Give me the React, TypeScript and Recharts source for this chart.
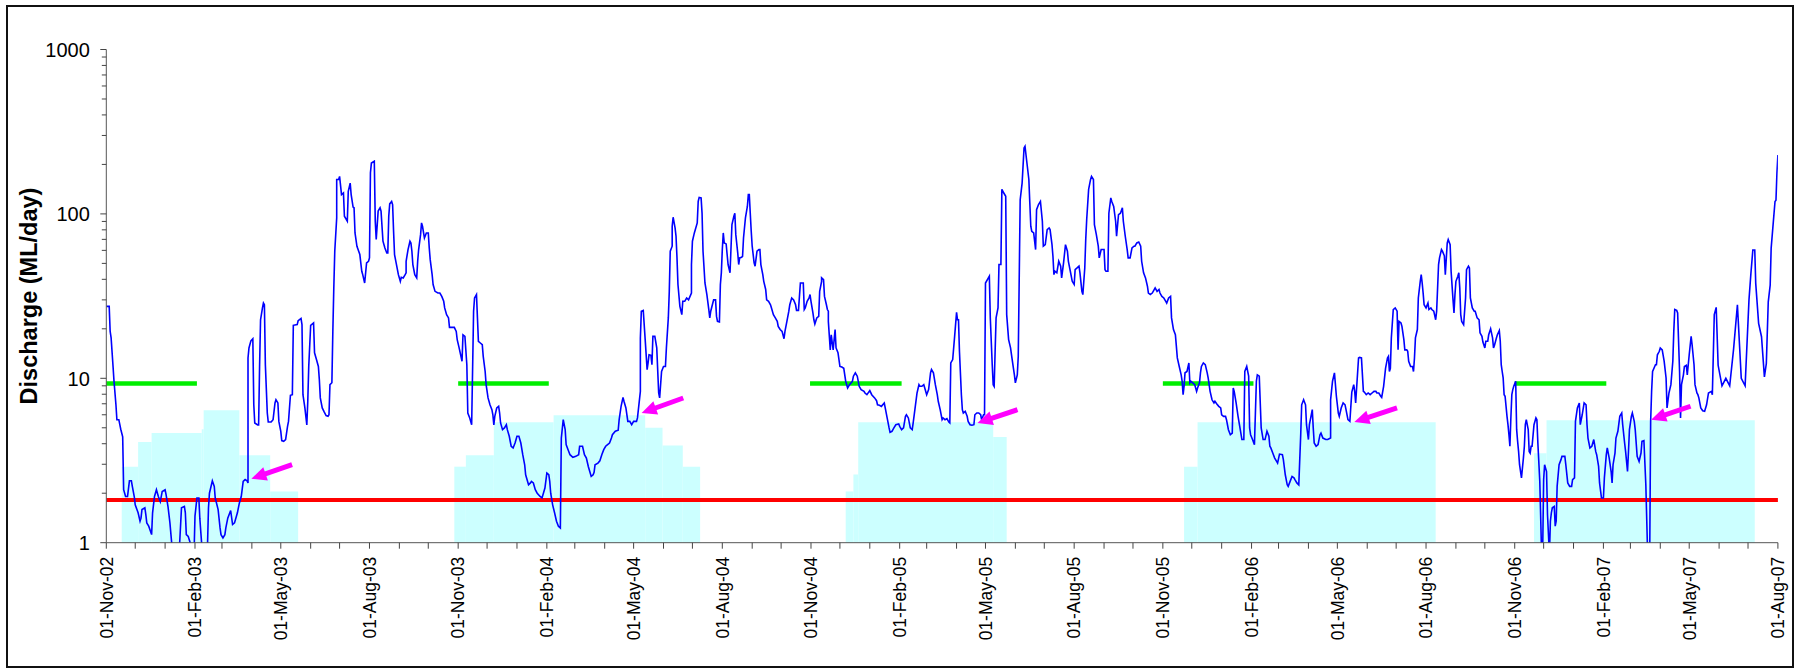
import React from 'react'
import {
  ComposedChart,
  Line,
  XAxis,
  YAxis,
  ReferenceArea,
  ReferenceLine,
  Label,
} from 'recharts'

// x values are days after 01-Nov-02, y values are ML/day
const START = Date.UTC(2002, 10, 1)
const END_DAY = 1734 // 01-Aug-07

const flow2003 = [
  [0, 27.4], [3, 27.4], [4, 19.3], [5, 17.6], [7, 11.8], [8, 9.6], [10, 6.9], [11, 5.6], [13, 5.6], [15, 4.9],
  [17, 4.4], [18, 2.1], [20, 1.91], [22, 1.91], [24, 2.38], [26, 2.38], [27, 2.2], [29, 1.91], [30, 1.7], [33, 1.52],
  [35, 1.35], [36, 1.41], [37, 1.59], [40, 1.63], [41, 1.48], [42, 1.32], [44, 1.26], [47, 1.12], [48, 1.52], [50, 1.91],
  [52, 2.1], [54, 1.91], [56, 1.78], [58, 2.05], [61, 2.1], [62, 1.96], [64, 1.66], [66, 1.32], [68, 0.97], [70, 0.8],
  [75, 0.8], [76, 0.97], [78, 1.63], [81, 1.66], [82, 1.52], [83, 1.12], [85, 1.09], [87, 1.0], [89, 0.8], [91, 0.85],
  [92, 1.45], [94, 1.87], [96, 1.87], [97, 1.41], [99, 0.97], [100, 0.8], [103, 0.8], [105, 0.97], [106, 1.63], [107, 2.0],
  [110, 2.38], [112, 2.2], [113, 1.87], [116, 1.59], [118, 1.23], [119, 1.12], [121, 1.07], [123, 1.12], [124, 1.23], [126, 1.41],
  [129, 1.57], [131, 1.29], [133, 1.32], [136, 1.52], [138, 1.74], [140, 1.91], [142, 2.36], [144, 2.42], [146, 2.38], [147, 2.31],
  [147, 13.3], [148, 15.3], [150, 16.9], [152, 17.4], [153, 6.9], [154, 5.35], [157, 5.2], [158, 5.2], [159, 11.8], [160, 22.7],
  [162, 26.8], [163, 28.7], [164, 28], [165, 12.1], [167, 6.15], [168, 5.42], [171, 5.42], [173, 5.6], [175, 7.08], [176, 7.4],
  [178, 7.08], [179, 5.47], [181, 4.76], [182, 4.18], [184, 4.14], [186, 4.24], [188, 5.1], [189, 5.47], [191, 7.88], [193, 7.95],
  [194, 21], [198, 21.2], [199, 22.4], [202, 23.1], [203, 21.2], [204, 7.95], [206, 6.6], [208, 5.2], [209, 7.25], [210, 11.8],
  [212, 21], [215, 21.7], [216, 14.3], [218, 13], [220, 11.8], [221, 9.8], [222, 7.6], [224, 6.6], [226, 6.24], [228, 5.93],
  [230, 5.88], [231, 6.0], [232, 9.15], [234, 9.4], [235, 19.3], [236, 35.5], [237, 59.3], [239, 94.6], [239, 162], [241, 162],
  [242, 169], [244, 131], [246, 134], [247, 96.8], [250, 90.2], [251, 137], [253, 154], [254, 131], [256, 110], [257, 109],
  [258, 76.6], [260, 63.5], [263, 56.6], [265, 44.8], [266, 42.7], [268, 38.0], [270, 50.3], [272, 51.5], [273, 54], [274, 178],
  [275, 204], [278, 209], [279, 90.2], [280, 69.8], [282, 104], [284, 109], [285, 104], [287, 68.2], [289, 62.1], [291, 57.9],
  [292, 57.9], [293, 96.8], [294, 115], [296, 119], [297, 114], [298, 78.4], [299, 56.6], [301, 49.2], [303, 42.7], [305, 38.9],
  [306, 41.2], [308, 40.8], [310, 42.7], [311, 43.8], [311, 51.5], [313, 60.7], [315, 68.2], [316, 66.6], [317, 59.3], [318, 49.2],
  [320, 42.7], [322, 40.8], [323, 51.5], [324, 60.7], [326, 74.8], [327, 88.2], [328, 84.1], [330, 71.4], [332, 76.6], [334, 76.6],
  [335, 62.1], [336, 52.7], [338, 42.7], [339, 37.2], [341, 33.8], [344, 33], [346, 33], [348, 31.5], [350, 29.4], [351, 26.8],
  [353, 24.4], [355, 23.3], [356, 20.4], [361, 20.4], [363, 19.3], [364, 17.2],
]

const flow2004 = [
  [366, 15.3], [369, 12.7], [370, 18.4], [372, 18], [374, 12.1], [375, 6.15], [377, 5.74], [379, 5.22], [381, 25.6], [382, 30.8],
  [384, 32.3], [385, 23.3], [386, 16.8], [388, 16.4], [390, 16], [391, 13.6], [393, 11], [394, 9.15], [396, 7.6], [398, 6.9],
  [400, 6.45], [401, 6.0], [402, 5.2], [403, 5.87], [405, 6.6], [407, 6.75], [408, 6.15], [409, 5.35], [411, 4.87], [413, 4.99],
  [415, 5.22], [416, 4.87], [418, 4.44], [420, 3.86], [422, 3.77], [424, 4.04], [426, 4.44], [428, 4.44], [430, 4.04], [432, 3.43],
  [434, 2.98], [435, 2.59], [438, 2.25], [440, 2.31], [441, 2.36], [443, 2.31], [445, 2.1], [447, 2.0], [450, 1.91], [452, 1.87],
  [455, 2.15], [457, 2.65], [459, 2.59], [460, 2.36], [461, 2.0], [463, 1.7], [465, 1.52], [467, 1.35], [469, 1.26], [471, 1.23],
  [472, 4.33], [474, 5.6], [476, 4.87], [477, 3.95], [479, 3.68], [481, 3.43], [484, 3.31], [487, 3.35], [490, 3.43], [491, 3.86],
  [494, 3.86], [496, 3.43], [498, 3.27], [500, 2.91], [503, 2.53], [505, 2.59], [506, 2.68], [507, 2.98], [510, 3.05], [512, 3.15],
  [514, 3.43], [516, 3.68], [518, 3.86], [520, 3.95], [522, 4.04], [524, 4.33], [525, 4.54], [528, 4.76], [531, 4.83], [532, 5.6],
  [534, 6.75], [536, 7.66], [537, 7.25], [539, 6.6], [541, 5.47], [543, 5.47], [545, 5.22], [547, 5.47], [550, 5.47], [551, 5.74],
  [554, 8.33], [554, 17.6], [555, 25.6], [557, 25.9], [559, 17.2], [561, 11.3], [562, 12.4], [563, 13.9], [565, 13.8], [566, 12.1],
  [567, 18], [569, 18], [571, 15.3], [573, 8.14], [574, 7.6], [576, 11], [578, 11.8], [580, 11.8], [581, 15.3], [583, 23.3],
  [584, 33.8], [585, 59.3], [587, 63.6], [587, 84.1], [588, 95.4], [590, 82.2], [591, 73.1], [592, 54], [593, 37.2], [595, 27.4],
  [597, 24.4], [598, 29.4], [600, 29.4], [602, 30.8], [604, 30], [607, 33], [607, 49.2], [608, 68.2], [610, 76.6], [613, 88.2],
  [614, 119], [615, 126], [617, 125], [618, 101], [619, 59.3], [621, 38], [623, 32.3], [625, 26.2], [626, 23.3], [627, 25.6],
  [630, 30], [632, 30], [633, 23.8], [634, 22.2], [636, 22], [637, 37.2], [638, 43.8], [639, 60.7], [640, 76.6], [641, 66.6],
  [643, 65.7], [644, 56.6], [645, 49.2], [647, 43.8], [649, 86.1], [651, 96.8], [652, 101], [653, 74.8], [655, 57.9], [656, 49.2],
  [657, 54], [659, 54.5], [660, 55.1], [661, 71.4], [663, 94.6], [665, 111], [666, 131], [667, 131], [668, 101], [669, 78.4],
  [670, 63.6], [672, 50.4], [673, 48.1], [675, 59.3], [677, 60.7], [678, 60.7], [679, 49.2], [681, 42.7], [682, 38.9], [684, 34.7],
  [685, 30], [687, 29.4], [689, 28], [690, 26.8], [692, 24.4], [694, 23.3], [696, 22.2], [697, 20.7], [699, 19.8], [701, 19.3],
  [703, 17.4], [704, 19.3], [706, 22.2], [708, 25.6], [709, 28], [711, 30.8], [713, 30], [715, 28], [716, 25.9], [718, 25.9],
  [720, 38], [723, 38], [724, 26.2], [725, 26.8], [727, 29.4], [729, 30.8], [730, 32.3],
]

const flow2005 = [
  [731, 29.4], [733, 25], [734, 22.7], [735, 21.4], [737, 23.3], [739, 23.8], [740, 33.8], [742, 38.9], [742, 40.8], [744, 39.8],
  [745, 31.5], [747, 28], [748, 26.2], [749, 25.6], [749, 22.2], [751, 14.9], [752, 18.4], [754, 14.9], [756, 19.8], [757, 15.3],
  [759, 14.3], [761, 11.8], [763, 11.7], [765, 11.5], [767, 9.6], [769, 8.73], [771, 9.15], [774, 9.6], [775, 10.3], [777, 10.8],
  [779, 10.3], [781, 8.94], [783, 8.53], [786, 8.33], [787, 8.14], [789, 7.95], [792, 8.42], [794, 7.95], [797, 7.6], [799, 7.31],
  [800, 6.9], [802, 6.85], [804, 6.75], [807, 7.08], [808, 6.6], [810, 5.74], [812, 4.99], [813, 4.69], [815, 4.76], [817, 4.99],
  [819, 5.22], [822, 5.27], [823, 5.1], [825, 4.87], [827, 4.99], [829, 5.87], [830, 6.0], [832, 5.74], [834, 4.99], [836, 4.87],
  [837, 5.35], [839, 6.6], [841, 8.14], [843, 9.15], [844, 8.94], [846, 8.94], [848, 9.15], [849, 8.73], [851, 7.95], [853, 8.53],
  [855, 10.8], [856, 11.3], [858, 10.8], [860, 9.15], [862, 7.95], [863, 7.25], [865, 6.45], [867, 5.6], [868, 5.74], [870, 5.6],
  [872, 5.68], [874, 5.42], [875, 5.35], [876, 12.4], [878, 13], [880, 18], [882, 25.2], [883, 22.7], [884, 22.7], [885, 14.6],
  [887, 7.95], [888, 6.45], [889, 6.15], [891, 6.3], [893, 5.87], [894, 5.47], [896, 5.22], [898, 5.18], [900, 5.22], [901, 6.0],
  [903, 6.15], [905, 6.15], [907, 6.0], [908, 5.6], [910, 6.0], [911, 6.0], [912, 38], [915, 40.8], [916, 41.8], [917, 23.3],
  [919, 12.1], [920, 9.15], [921, 8.94], [922, 14.6], [923, 23.3], [925, 26.8], [926, 49.2], [928, 49.2], [929, 141], [931, 134],
  [933, 128], [934, 24.4], [936, 17.2], [938, 15.3], [939, 13.9], [941, 11.5], [942, 10.5], [943, 9.38], [945, 10.5], [946, 13.6],
  [948, 122], [950, 154], [952, 252], [953, 258], [955, 204], [957, 162], [958, 116], [959, 84.1], [960, 78.4], [962, 76.6],
  [964, 60.7], [965, 106], [967, 114], [969, 119], [971, 90.2], [972, 63.6], [974, 65], [976, 80.3], [978, 82.2], [979, 80.3],
  [981, 65], [982, 55.1], [983, 42.7], [984, 44.8], [986, 43.8], [988, 51.5], [990, 48.1], [991, 40.8], [993, 50.4], [995, 65],
  [997, 59.3], [998, 51.5], [1000, 44.8], [1002, 38.9], [1004, 37.2], [1005, 45.8], [1007, 46.9], [1009, 48.1], [1010, 43.8], [1012, 33.8],
  [1013, 32.3], [1015, 46.9], [1016, 70], [1017, 92.4], [1019, 141], [1021, 162], [1022, 169], [1024, 162], [1025, 86.1], [1027, 74.8],
  [1029, 63.6], [1030, 54], [1032, 60.7], [1035, 60.7], [1036, 45.8], [1037, 44.8], [1039, 44.8], [1040, 101], [1042, 125], [1043, 119],
  [1045, 111], [1047, 90.2], [1048, 73.1], [1050, 99], [1052, 101], [1054, 109], [1055, 90.2], [1057, 73.1], [1059, 60.7], [1060, 54],
  [1062, 54], [1064, 62.1], [1066, 63.6], [1067, 63.6], [1069, 66.6], [1071, 67.5], [1073, 63.6], [1074, 51.5], [1076, 43.8], [1078, 40.8],
  [1080, 36.3], [1081, 33], [1083, 32.3], [1085, 33], [1086, 33.8], [1088, 35.5], [1090, 33.8], [1092, 34.7], [1093, 33], [1095, 31.5],
]

const flow2006 = [
  [1097, 30.8], [1099, 29.4], [1100, 28.7], [1102, 30.8], [1104, 31.5], [1105, 23.3], [1107, 19.8], [1109, 18.4], [1110, 15.7], [1111, 13.3],
  [1113, 11.8], [1115, 10.5], [1116, 9.6], [1117, 7.95], [1118, 8.94], [1119, 10.8], [1121, 11], [1123, 12.4], [1124, 9.38], [1125, 9.6],
  [1127, 9.38], [1129, 9.15], [1131, 8.33], [1132, 8.73], [1134, 9.38], [1135, 10.8], [1136, 11.8], [1138, 12.4], [1140, 12.1], [1142, 10.8],
  [1143, 10.05], [1145, 8.33], [1147, 7.4], [1149, 7.08], [1150, 7.25], [1152, 6.98], [1154, 6.75], [1156, 6.6], [1157, 6.0], [1159, 5.87],
  [1161, 5.87], [1162, 5.6], [1164, 4.87], [1166, 4.54], [1168, 4.64], [1169, 8.73], [1170, 8.33], [1172, 7.08], [1174, 5.87], [1176, 4.99],
  [1178, 4.24], [1180, 4.24], [1181, 11], [1183, 11.8], [1185, 10.3], [1186, 4.99], [1187, 4.54], [1189, 4.24], [1191, 3.95], [1193, 9.6],
  [1194, 10.5], [1196, 10.3], [1198, 4.99], [1200, 4.24], [1202, 4.24], [1204, 4.76], [1206, 4.44], [1207, 3.86], [1208, 3.77], [1210, 3.51],
  [1212, 3.27], [1214, 3.12], [1215, 3.05], [1217, 3.46], [1220, 3.43], [1221, 3.2], [1223, 2.59], [1225, 2.25], [1226, 2.2], [1228, 2.36],
  [1230, 2.53], [1232, 2.48], [1233, 2.42], [1235, 2.31], [1237, 2.25], [1239, 4.54], [1240, 6.9], [1242, 7.4], [1244, 6.9], [1245, 5.22],
  [1247, 4.24], [1248, 5.22], [1250, 6.0], [1251, 6.45], [1252, 4.99], [1253, 4.04], [1255, 3.86], [1257, 3.95], [1259, 4.54], [1260, 4.64],
  [1262, 4.33], [1265, 4.24], [1267, 4.24], [1270, 4.33], [1270, 7.4], [1272, 9.6], [1274, 10.8], [1276, 7.78], [1278, 6.15], [1279, 5.87],
  [1281, 6.6], [1283, 7.08], [1285, 6.9], [1286, 6.45], [1288, 5.6], [1290, 5.47], [1291, 6.75], [1292, 8.24], [1294, 9.15], [1295, 8.33],
  [1296, 7.08], [1299, 13.3], [1300, 13.4], [1302, 13.3], [1304, 8.33], [1305, 8.24], [1307, 7.95], [1309, 8.14], [1311, 7.95], [1313, 8.14],
  [1315, 8.33], [1317, 8.33], [1318, 8.14], [1320, 8.14], [1322, 7.78], [1323, 7.66], [1325, 8.94], [1327, 11.5], [1329, 13.3], [1330, 13.6],
  [1331, 11], [1332, 11.5], [1333, 17.6], [1335, 26.2], [1337, 26.8], [1339, 25.6], [1340, 14.9], [1341, 22.2], [1343, 21.7], [1344, 20.7],
  [1346, 17.2], [1347, 14.9], [1349, 14.9], [1350, 14.6], [1351, 12.7], [1353, 11.8], [1355, 11.8], [1356, 11], [1357, 13.3], [1358, 17.6],
  [1360, 19.8], [1361, 30.8], [1363, 38.9], [1364, 42.7], [1365, 38], [1366, 33], [1367, 28], [1369, 26.8], [1371, 28.7], [1372, 26.2],
  [1374, 26.8], [1375, 26.2], [1377, 25.6], [1379, 22.7], [1380, 25.6], [1382, 49.2], [1383, 54], [1385, 60.7], [1386, 59.3], [1388, 55.6],
  [1389, 42.7], [1391, 66.6], [1392, 69.8], [1394, 65], [1395, 44.8], [1397, 30], [1398, 25], [1399, 32.3], [1400, 38.9], [1402, 41.8],
  [1403, 43.8], [1404, 35.5], [1405, 24.4], [1406, 22.2], [1408, 21.2], [1410, 30.8], [1411, 45.8], [1413, 48.1], [1414, 46.9], [1415, 30.8],
  [1417, 26.8], [1419, 25.6], [1420, 25.6], [1422, 23.3], [1424, 22.7], [1425, 18.9], [1427, 18], [1428, 16.6], [1430, 15.3], [1431, 16.8],
  [1433, 16.8], [1434, 18.4], [1436, 20], [1438, 17.6], [1439, 15.3], [1440, 15.9], [1442, 17.6], [1443, 18.4], [1445, 19.5], [1446, 16.8],
  [1447, 12.1], [1448, 11], [1449, 10.05], [1450, 7.95], [1451, 7.78], [1453, 5.87], [1454, 5.22], [1455, 4.54], [1456, 3.86], [1457, 5.74],
  [1458, 7.95], [1459, 8.53], [1460, 8.94],
]

const flow2007 = [
  [1462, 9.6], [1463, 4.87], [1464, 4.14], [1465, 3.59], [1466, 2.98], [1468, 2.48], [1470, 3.27], [1471, 3.86], [1472, 5.22], [1473, 5.6],
  [1475, 4.87], [1476, 3.59], [1477, 3.51], [1478, 3.86], [1479, 3.86], [1481, 5.22], [1483, 5.74], [1484, 5.6], [1485, 4.04], [1487, 2.36],
  [1489, 0.8], [1490, 0.9], [1491, 2.42], [1492, 2.98], [1494, 2.71], [1495, 1.48], [1497, 0.85], [1498, 1.35], [1499, 1.52], [1500, 1.63],
  [1502, 1.66], [1503, 1.26], [1504, 1.35], [1505, 2.2], [1507, 2.98], [1509, 3.2], [1510, 3.35], [1513, 3.35], [1514, 2.98], [1516, 2.31],
  [1518, 2.2], [1520, 2.2], [1521, 2.42], [1523, 2.48], [1524, 5.47], [1526, 6.6], [1528, 7.08], [1529, 5.22], [1531, 6.0], [1533, 7.08],
  [1535, 6.9], [1536, 5.22], [1537, 4.33], [1539, 3.77], [1541, 3.86], [1543, 4.24], [1545, 3.59], [1546, 3.43], [1548, 2.91], [1549, 2.31],
  [1551, 1.87], [1553, 1.87], [1554, 2.48], [1556, 3.43], [1557, 3.77], [1559, 3.27], [1561, 2.71], [1562, 2.31], [1563, 2.98], [1565, 3.51],
  [1566, 4.33], [1568, 4.76], [1570, 5.87], [1572, 6.15], [1573, 5.22], [1575, 4.04], [1576, 3.59], [1578, 2.71], [1579, 3.59], [1580, 4.87],
  [1582, 5.87], [1583, 6.15], [1585, 5.47], [1586, 4.87], [1588, 3.35], [1590, 3.12], [1592, 3.51], [1593, 4.14], [1595, 4.18], [1597, 2.25],
  [1599, 0.8], [1601, 0.8], [1602, 5.47], [1603, 8.33], [1604, 11], [1607, 12.1], [1608, 12.1], [1609, 13.9], [1611, 14.6], [1612, 15.3],
  [1614, 14.9], [1616, 12.7], [1618, 10.05], [1619, 6.6], [1621, 8.14], [1623, 9.15], [1625, 12.7], [1626, 19.3], [1627, 26.2], [1629, 25.9],
  [1630, 25], [1632, 11], [1633, 5.74], [1634, 9.15], [1636, 10.5], [1637, 11.8], [1639, 12], [1640, 10.5], [1642, 13.9], [1644, 18],
  [1645, 16], [1647, 12.1], [1648, 9.15], [1650, 8.14], [1651, 7.95], [1652, 7.6], [1654, 6.6], [1656, 6.35], [1658, 6.3], [1660, 6.9],
  [1662, 8.14], [1665, 8.33], [1666, 7.95], [1668, 24.4], [1670, 27], [1672, 12], [1676, 9], [1680, 10], [1684, 9], [1688, 15],
  [1692, 28], [1696, 10], [1700, 9], [1704, 30], [1706, 43.5], [1708, 60.3], [1710, 60.3], [1711, 37.8], [1714, 21.6], [1717, 17.9],
  [1720, 10.2], [1722, 12.3], [1724, 29.2], [1726, 36.9], [1727, 61.8], [1730, 101], [1731, 119], [1732, 121], [1733, 177], [1734, 228],
]

// shaded seasonal envelope: [fromDay, toDay, ML/day]
const envelope2003 = [[16, 33, 2.9], [33, 47, 4.1], [47, 99, 4.65], [99, 101, 4.9], [101, 138, 6.4], [138, 170, 3.4], [170, 199, 2.05]]
const envelope2004 = [[361, 373, 2.9], [373, 402, 3.4], [402, 464, 5.4], [464, 559, 5.95], [559, 577, 5.0], [577, 598, 3.9], [598, 616, 2.9]]
const envelope2005 = [[767, 775, 2.05], [775, 780, 2.6], [780, 920, 5.4], [920, 934, 4.4]]
const envelope2006 = [[1118, 1132, 2.9], [1132, 1379, 5.4]]
const envelope2007 = [[1481, 1494, 3.5], [1494, 1710, 5.55]]

// green target segments: [fromDay, toDay]
const targetSegments = [[0, 94], [365, 459], [730, 825], [1096, 1190], [1461, 1556]]
const targetFlow = 9.3
const minimumFlow = 1.82

// arrows: [tipDay, tipFlow, tailDay, tailFlow]
const arrows = [
  [150.5, 2.45, 192.7, 2.98],
  [555.3, 6.15, 598.5, 7.59],
  [903.7, 5.35, 945.2, 6.44],
  [1294.6, 5.42, 1338.9, 6.6],
  [1602.5, 5.6, 1643.4, 6.76],
]

const yLabelTicks = [1, 10, 100, 1000]
const xLabelMonths = [10, 1, 4, 7] // Nov, Feb, May, Aug
const MONTHS = ['Jan', 'Feb', 'Mar', 'Apr', 'May', 'Jun', 'Jul', 'Aug', 'Sep', 'Oct', 'Nov', 'Dec']

const flowData = [...flow2003, ...flow2004, ...flow2005, ...flow2006, ...flow2007].map(([day, flow]) => ({ day, flow }))
const envelopes = [...envelope2003, ...envelope2004, ...envelope2005, ...envelope2006, ...envelope2007]

const monthTicks: number[] = []
for (let i = 0; i <= 57; i++) {
  const t = Date.UTC(2002, 10 + i, 1)
  monthTicks.push(Math.round((t - START) / 86400000))
}

const yTicks: number[] = []
for (const decade of [1, 10, 100]) {
  for (let m = 1; m < 10; m++) yTicks.push(decade * m)
}
yTicks.push(1000)

const dayToDate = (day: number) => new Date(START + day * 86400000)

const FONT = 'Liberation Sans, Arial, sans-serif'

const XTick = ({ x, y, payload }: any) => {
  const d = dayToDate(payload.value)
  const labelled = xLabelMonths.includes(d.getUTCMonth())
  const label = `01-${MONTHS[d.getUTCMonth()]}-${String(d.getUTCFullYear()).slice(2)}`
  return (
    <g>
      <line x1={x} x2={x} y1={y} y2={y + 6} stroke="#444" strokeWidth={1} />
      {labelled && (
        <text
          transform={`translate(${x},${y + 14}) rotate(-90)`}
          textAnchor="end"
          dy="0.36em"
          fontSize={17.5}
          fontFamily={FONT}
          fill="#000"
        >
          {label}
        </text>
      )}
    </g>
  )
}

const YTick = ({ x, y, payload }: any) => {
  const labelled = yLabelTicks.includes(payload.value)
  return (
    <g>
      <line x1={x - (labelled ? 6 : 4.5)} x2={x} y1={y} y2={y} stroke="#444" strokeWidth={1} />
      {labelled && (
        <text x={x - 16.5} y={y} dy="0.36em" textAnchor="end" fontSize={20} fontFamily={FONT} fill="#000">
          {payload.value}
        </text>
      )}
    </g>
  )
}

const Arrow = (props: any) => {
  const { x1, y1, x2, y2 } = props
  const dx = x2 - x1
  const dy = y2 - y1
  const len = Math.hypot(dx, dy) || 1
  const ux = dx / len
  const uy = dy / len
  const headLen = 15
  const headW = 7
  const bx = x2 - ux * headLen
  const by = y2 - uy * headLen
  const px = -uy
  const py = ux
  return (
    <g>
      <line x1={x1} y1={y1} x2={bx + ux} y2={by + uy} stroke="#ff00ff" strokeWidth={5} />
      <polygon
        points={`${x2},${y2} ${bx + px * headW},${by + py * headW} ${bx - px * headW},${by - py * headW}`}
        fill="#ff00ff"
      />
    </g>
  )
}

export default function App() {
  return (
    <div style={{ position: 'absolute', left: 0, top: 0, width: 1798, height: 668, background: '#fff' }}>
      <div
        style={{
          position: 'absolute',
          left: 6,
          top: 5,
          width: 1784,
          height: 659,
          border: '2px solid #111',
        }}
      />
      <ComposedChart
        width={1798}
        height={668}
        data={flowData}
        margin={{ top: 49.5, right: 20.1, bottom: 0, left: 0 }}
        style={{ position: 'absolute', left: 0, top: 0 }}
      >
        <XAxis
          dataKey="day"
          type="number"
          domain={[0, END_DAY]}
          ticks={monthTicks}
          interval={0}
          allowDataOverflow
          height={125.3}
          tickSize={0}
          tickMargin={0}
          tickLine={false}
          tick={<XTick />}
          stroke="#555"
        />
        <YAxis
          type="number"
          scale="log"
          domain={[1, 1000]}
          ticks={yTicks}
          interval={0}
          allowDataOverflow
          width={106.3}
          tickSize={0}
          tickMargin={0}
          tickLine={false}
          tick={<YTick />}
          stroke="#555"
        >
          <Label
            content={() => (
              <text
                transform="translate(28.5,296) rotate(-90)"
                textAnchor="middle"
                dy="0.36em"
                fontSize={23.5}
                fontWeight="bold"
                fontFamily={FONT}
                fill="#000"
              >
                Discharge (ML/day)
              </text>
            )}
          />
        </YAxis>
        {envelopes.map(([from, to, level], i) => (
          <ReferenceArea
            key={`env-${i}`}
            x1={from}
            x2={to}
            y1={1}
            y2={level}
            fill="#ccffff"
            fillOpacity={1}
            stroke="none"
          />
        ))}
        <ReferenceLine
          segment={[{ x: 0, y: minimumFlow }, { x: END_DAY, y: minimumFlow }]}
          stroke="#ff0000"
          strokeWidth={4}
        />
        {targetSegments.map(([from, to], i) => (
          <ReferenceLine
            key={`tgt-${i}`}
            segment={[{ x: from, y: targetFlow }, { x: to, y: targetFlow }]}
            stroke="#00ee00"
            strokeWidth={4.5}
          />
        ))}
        <Line
          dataKey="flow"
          type="linear"
          stroke="#0000ff"
          strokeWidth={1.6}
          dot={false}
          activeDot={false}
          isAnimationActive={false}
        />
        {arrows.map(([tipDay, tipFlow, tailDay, tailFlow], i) => (
          <ReferenceLine
            key={`arrow-${i}`}
            segment={[{ x: tailDay, y: tailFlow }, { x: tipDay, y: tipFlow }]}
            shape={<Arrow />}
          />
        ))}
      </ComposedChart>
    </div>
  )
}
